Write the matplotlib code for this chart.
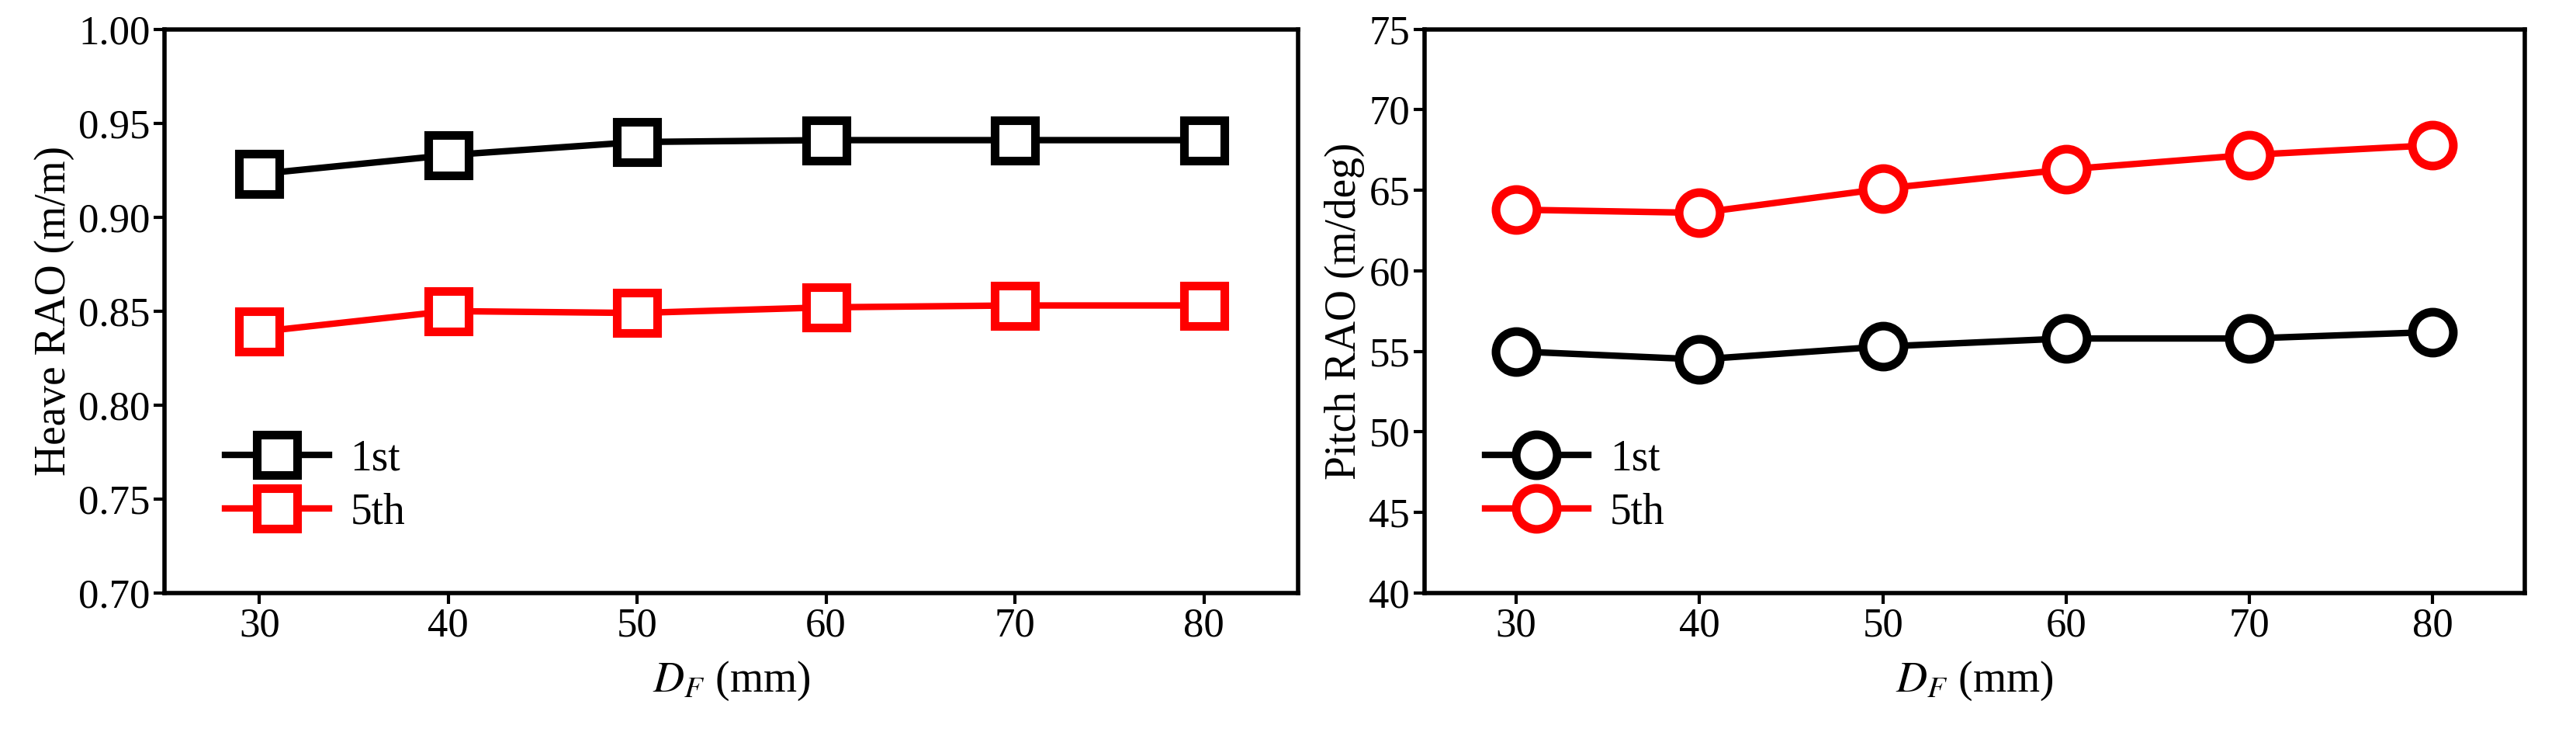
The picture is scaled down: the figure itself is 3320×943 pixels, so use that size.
import matplotlib
matplotlib.use("Agg")
import matplotlib.pyplot as plt

plt.rcParams['font.family'] = ['Liberation Serif', 'DejaVu Serif']
plt.rcParams['mathtext.fontset'] = 'stix'

df = [30, 40, 50, 60, 70, 80]
heave_1st = [0.923, 0.933, 0.940, 0.941, 0.941, 0.941]
heave_5th = [0.839, 0.850, 0.849, 0.852, 0.853, 0.853]
pitch_1st = [55.0, 54.5, 55.3, 55.8, 55.8, 56.2]
pitch_5th = [63.8, 63.6, 65.1, 66.3, 67.2, 67.8]

fig = plt.figure(figsize=(33.2, 9.43), dpi=100)
ax1 = fig.add_axes([0.064, 0.19, 0.44, 0.77])
ax2 = fig.add_axes([0.553, 0.19, 0.427, 0.77])

def style(ax, marker, s1, s5, ylim, yticks, ylabel):
    kw = dict(lw=6, marker=marker, ms=38, mfc='white', mew=8)
    ax.plot(df, s1, color='black', label='1st', **kw)
    ax.plot(df, s5, color='red', label='5th', **kw)
    ax.set_xlim(25, 85)
    ax.set_xticks(df)
    ax.set_ylim(*ylim)
    ax.set_yticks(yticks)
    ax.set_ylabel(ylabel, fontsize=40)
    ax.set_xlabel(r'$D_F$ (mm)', fontsize=40, labelpad=14)
    ax.tick_params(labelsize=38, width=3, length=10, direction='out')
    for sp in ax.spines.values():
        sp.set_linewidth(4)
    ax.legend(loc='lower left', frameon=False, fontsize=40, handlelength=2.4,
              handletextpad=0.5, borderaxespad=1.0, labelspacing=0.3)

style(ax1, 's', heave_1st, heave_5th, (0.70, 1.00),
      [0.70, 0.75, 0.80, 0.85, 0.90, 0.95, 1.00], 'Heave RAO (m/m)')
ax1.set_yticklabels([f'{v:.2f}' for v in [0.70, 0.75, 0.80, 0.85, 0.90, 0.95, 1.00]])
style(ax2, 'o', pitch_1st, pitch_5th, (40, 75),
      list(range(40, 80, 5)), 'Pitch RAO (m/deg)')

fig.savefig('out.png', dpi=100)
